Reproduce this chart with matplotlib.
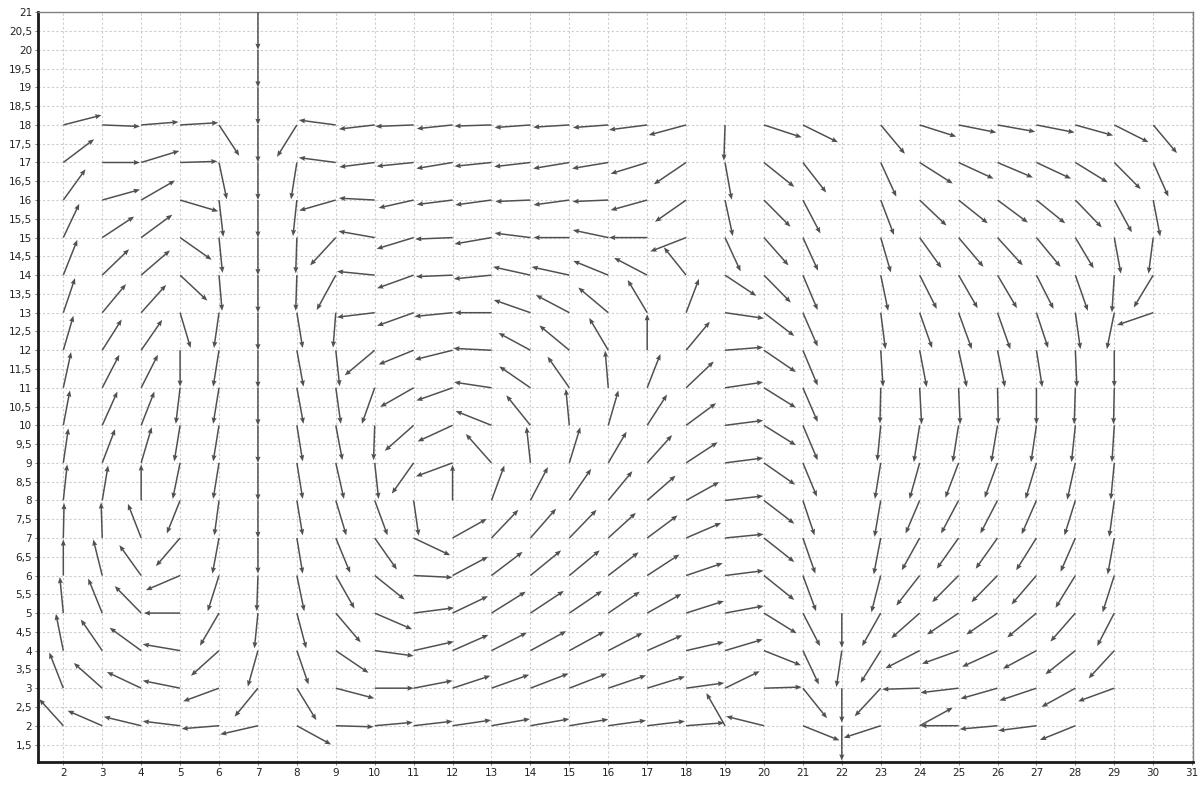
import numpy as np
import matplotlib
matplotlib.use("Agg")
import matplotlib.pyplot as plt
from matplotlib.ticker import MultipleLocator, FuncFormatter

nan = np.nan

# grid nodes (columns x = 2..30, rows y = 18..2)
xs = list(range(2, 31))
ys = list(range(18, 1, -1))

# x component of the vector at each node, one row per y value
u_rows = [
    [0.98, 0.97, 0.96, 0.98, 0.52, 0, -0.51, -0.95, -0.92, -0.98, -0.92, -0.95, -0.92, -0.93, -0.91, -0.98, -0.96, -0.03, 0.97, 0.9, nan, 0.62, 0.94, 0.97, 0.97, 0.98, 0.97, 0.88, 0.61],
    [0.79, 0.97, 0.98, 0.96, 0.2, 0, -0.15, -0.95, -0.91, -0.95, -0.93, -0.95, -0.93, -0.93, -0.93, -0.94, -0.83, 0.17, 0.78, 0.6, nan, 0.4, 0.85, 0.9, 0.91, 0.89, 0.83, 0.68, 0.39],
    [0.57, 0.97, 0.87, 0.98, 0.11, 0, -0.1, -0.94, -0.92, -0.9, -0.92, -0.93, -0.9, -0.92, -0.92, -0.94, -0.8, 0.2, 0.68, 0.45, nan, 0.34, 0.69, 0.75, 0.78, 0.74, 0.68, 0.45, 0.18],
    [0.41, 0.82, 0.8, 0.81, 0.09, 0, -0.03, -0.66, -0.93, -0.95, -0.96, -0.95, -0.92, -0.92, -0.91, -0.98, -0.92, 0.4, 0.63, 0.39, nan, 0.26, 0.56, 0.64, 0.65, 0.62, 0.47, 0.17, -0.12],
    [0.36, 0.69, 0.74, 0.7, 0.08, 0, -0.03, -0.49, -0.97, -0.94, -0.94, -0.97, -0.96, -0.97, -0.9, -0.85, -0.57, 0.8, 0.69, 0.38, nan, 0.19, 0.44, 0.49, 0.5, 0.44, 0.32, -0.06, -0.5],
    [0.3, 0.61, 0.64, 0.27, -0.13, 0, 0.15, -0.07, -0.97, -0.94, -0.98, -0.94, -0.94, -0.86, -0.77, -0.5, 0.33, 1.0, 0.78, 0.38, nan, 0.12, 0.32, 0.34, 0.33, 0.3, 0.13, -0.19, -0.93],
    [0.26, 0.5, 0.54, 0.0, -0.15, 0, 0.17, 0.1, -0.77, -0.9, -0.97, -0.98, -0.82, -0.77, -0.49, 0.0, 0.61, 0.98, 0.82, 0.38, nan, 0.06, 0.18, 0.21, 0.19, 0.15, 0.04, 0.0, nan],
    [0.2, 0.44, 0.43, -0.11, -0.15, 0, 0.17, 0.13, -0.33, -0.86, -0.93, -0.96, -0.8, -0.56, -0.08, 0.34, 0.71, 0.98, 0.82, 0.38, nan, -0.02, 0.05, 0.04, 0.02, 0.0, -0.03, -0.02, nan],
    [0.17, 0.39, 0.34, -0.15, -0.15, 0, 0.15, 0.17, -0.03, -0.74, -0.9, -0.92, -0.62, -0.09, 0.26, 0.51, 0.77, 0.98, 0.82, 0.38, nan, -0.09, -0.15, -0.15, -0.16, -0.14, -0.1, -0.06, nan],
    [0.13, 0.33, 0.27, -0.19, -0.15, 0, 0.15, 0.21, 0.1, -0.56, -0.94, -0.66, -0.1, 0.28, 0.47, 0.64, 0.81, 0.98, 0.8, 0.36, nan, -0.15, -0.26, -0.34, -0.33, -0.28, -0.21, -0.09, nan],
    [0.1, 0.15, 0.0, -0.34, -0.12, 0, 0.15, 0.27, 0.33, 0.13, 0.0, 0.33, 0.45, 0.56, 0.62, 0.73, 0.85, 0.98, 0.78, 0.3, nan, -0.16, -0.36, -0.45, -0.44, -0.38, -0.28, -0.13, nan],
    [0.02, -0.03, -0.34, -0.62, -0.17, 0, 0.15, 0.37, 0.57, 0.94, 0.88, 0.69, 0.66, 0.7, 0.71, 0.78, 0.9, 0.99, 0.78, 0.32, nan, -0.18, -0.46, -0.56, -0.56, -0.52, -0.38, -0.17, nan],
    [0.0, -0.23, -0.56, -0.88, -0.29, -0.03, 0.19, 0.48, 0.77, 1.0, 0.91, 0.8, 0.79, 0.78, 0.78, 0.83, 0.94, 0.99, 0.78, 0.34, nan, -0.24, -0.6, -0.68, -0.67, -0.64, -0.51, -0.3, nan],
    [-0.09, -0.36, -0.68, -0.93, -0.49, -0.09, 0.24, 0.64, 0.96, 1.04, 0.91, 0.88, 0.86, 0.84, 0.81, 0.88, 0.97, 0.99, 0.84, 0.44, 0.0, -0.48, -0.73, -0.81, -0.8, -0.75, -0.64, -0.44, nan],
    [-0.19, -0.55, -0.81, -0.96, -0.72, -0.26, 0.3, 0.84, 1.0, 1.03, 0.92, 0.91, 0.92, 0.9, 0.88, 0.9, 0.97, 0.97, 0.95, 0.41, -0.14, -0.52, -0.88, -0.94, -0.91, -0.86, -0.77, -0.66, nan],
    [-0.36, -0.73, -0.88, -0.96, -0.92, -0.6, 0.5, 0.99, 1.0, 1.0, 0.97, 0.97, 0.98, 0.97, 0.97, 0.97, 0.98, 0.89, 0.97, 0.62, 0.0, -0.67, -0.96, -0.98, -0.95, -0.95, -0.87, -0.93, nan],
    [-0.62, -0.89, -0.96, -0.96, -0.96, -0.97, 0.88, 0.97, 0.98, 1.0, 0.99, 0.99, 1.0, 1.0, 0.97, 0.97, 0.98, -0.48, -0.97, 0.94, 0.0, -0.95, 0.85, -0.98, -0.97, -0.98, -0.91, nan, nan],
]

# y component of the vector at each node
v_rows = [
    [0.26, -0.04, 0.08, 0.06, -0.82, -1, -0.85, 0.13, -0.11, -0.04, -0.1, -0.03, -0.07, -0.06, -0.07, -0.13, -0.27, -0.95, -0.33, -0.46, nan, -0.77, -0.31, -0.2, -0.18, -0.2, -0.28, -0.46, -0.75],
    [0.62, 0.0, 0.31, 0.03, -0.98, -1, -0.98, 0.13, -0.12, -0.1, -0.16, -0.1, -0.11, -0.16, -0.16, -0.3, -0.58, -0.99, -0.65, -0.8, nan, -0.91, -0.56, -0.43, -0.4, -0.43, -0.53, -0.71, -0.91],
    [0.82, 0.28, 0.52, -0.3, -0.98, -1, -0.96, -0.28, 0.05, -0.21, -0.12, -0.13, -0.04, -0.13, -0.04, -0.27, -0.58, -0.96, -0.71, -0.89, nan, -0.93, -0.68, -0.62, -0.6, -0.62, -0.73, -0.86, -0.97],
    [0.9, 0.56, 0.61, -0.59, -0.94, -1, -0.95, -0.74, 0.17, -0.3, -0.04, -0.17, 0.12, 0.0, 0.2, 0.0, -0.37, -0.9, -0.74, -0.88, nan, -0.93, -0.81, -0.78, -0.74, -0.78, -0.82, -0.96, -0.96],
    [0.94, 0.69, 0.66, -0.68, -0.95, -1, -0.95, -0.93, 0.1, -0.35, -0.04, -0.1, 0.22, 0.22, 0.38, 0.46, 0.74, -0.55, -0.73, -0.93, nan, -0.95, -0.9, -0.88, -0.88, -0.9, -0.95, -0.99, -0.86],
    [0.92, 0.76, 0.74, -0.94, -0.94, -1, -0.94, -0.93, -0.12, -0.35, -0.1, 0.0, 0.34, 0.47, 0.67, 0.87, 0.9, -0.15, -0.62, -0.9, nan, -0.97, -0.94, -0.97, -0.97, -0.94, -0.97, -0.97, -0.33],
    [0.92, 0.82, 0.81, -0.97, -0.97, -1, -0.97, -0.96, -0.67, -0.38, -0.25, 0.05, 0.46, 0.66, 0.86, 0.96, 0.76, 0.08, -0.58, -0.94, nan, -0.97, -0.98, -0.98, -0.98, -0.98, -0.98, -0.98, nan],
    [0.95, 0.88, 0.88, -0.96, -0.96, -1, -0.96, -0.96, -0.96, -0.51, -0.34, 0.15, 0.57, 0.83, 0.99, 0.9, 0.7, 0.15, -0.53, -0.91, nan, -0.95, -0.97, -0.97, -0.97, -0.97, -0.97, -0.97, nan],
    [0.93, 0.9, 0.9, -0.96, -0.96, -1, -0.96, -0.93, -0.93, -0.68, -0.43, 0.38, 0.8, 0.97, 0.93, 0.82, 0.59, 0.13, -0.53, -0.93, nan, -0.95, -0.98, -0.98, -0.98, -0.98, -0.98, -0.98, nan],
    [0.92, 0.9, 0.95, -0.96, -0.96, -1, -0.96, -0.96, -0.96, -0.82, -0.36, 0.77, 0.96, 0.95, 0.83, 0.74, 0.55, 0.13, -0.58, -0.9, nan, -0.96, -0.96, -0.93, -0.93, -0.96, -0.98, -0.98, nan],
    [0.96, 0.93, 0.96, -0.88, -0.93, -1, -0.93, -0.93, -0.93, -0.94, 0.95, 0.93, 0.89, 0.84, 0.78, 0.66, 0.49, 0.12, -0.62, -0.93, nan, -0.97, -0.88, -0.88, -0.88, -0.9, -0.93, -0.97, nan],
    [0.93, 0.95, 0.91, -0.75, -0.95, -0.95, -0.95, -0.93, -0.84, -0.46, 0.51, 0.75, 0.78, 0.75, 0.67, 0.6, 0.4, 0.1, -0.64, -0.95, nan, -0.97, -0.86, -0.82, -0.82, -0.86, -0.9, -0.97, nan],
    [0.96, 0.96, 0.81, -0.39, -0.95, -0.95, -0.95, -0.88, -0.64, -0.05, 0.5, 0.63, 0.67, 0.67, 0.62, 0.56, 0.33, 0.13, -0.65, -0.95, nan, -0.98, -0.8, -0.71, -0.71, -0.77, -0.86, -0.98, nan],
    [0.96, 0.92, 0.72, 0.0, -0.87, -0.94, -0.94, -0.78, -0.43, 0.14, 0.45, 0.57, 0.59, 0.59, 0.57, 0.51, 0.32, 0.19, -0.54, -0.88, -0.92, -0.88, -0.67, -0.57, -0.57, -0.65, -0.76, -0.88, nan],
    [0.98, 0.83, 0.61, 0.17, -0.67, -0.96, -0.9, -0.59, -0.14, 0.24, 0.42, 0.48, 0.52, 0.51, 0.47, 0.41, 0.23, 0.3, -0.39, -0.9, -0.97, -0.86, -0.47, -0.35, -0.43, -0.48, -0.63, -0.74, nan],
    [0.95, 0.67, 0.43, 0.2, -0.35, -0.76, -0.85, -0.27, 0.0, 0.2, 0.33, 0.36, 0.39, 0.39, 0.34, 0.31, 0.14, 0.45, 0.03, -0.8, -0.92, -0.75, -0.03, -0.12, -0.28, -0.33, -0.5, -0.35, nan],
    [0.71, 0.4, 0.24, 0.12, -0.08, -0.23, -0.5, -0.03, 0.09, 0.12, 0.15, 0.18, 0.18, 0.17, 0.14, 0.12, 0.08, 0.87, 0.25, -0.39, -0.93, -0.32, 0.48, 0.0, -0.09, -0.13, -0.38, nan, nan],
]

# the wall column at x = 7 carries on above the main grid
wall_x = [7, 7, 7]
wall_y = [21, 20, 19]
wall_u = [0.0, 0.0, 0.0]
wall_v = [-1.0, -1.0, -1.0]

X, Y = np.meshgrid(xs, ys)
U = np.array(u_rows, dtype=float)
V = np.array(v_rows, dtype=float)

px = np.concatenate([X.ravel(), wall_x])
py = np.concatenate([Y.ravel(), wall_y])
pu = np.concatenate([U.ravel(), wall_u])
pv = np.concatenate([V.ravel(), wall_v])
ok = ~np.isnan(pu)

fig = plt.figure(figsize=(12.04, 7.87), dpi=100)
ax = fig.add_axes([37.7 / 1204, 1 - 762.3 / 787, (1193.3 - 37.7) / 1204, (762.3 - 12.3) / 787])

ax.quiver(px[ok], py[ok], pu[ok], pv[ok], angles='xy', scale_units='xy', scale=1,
          color='#505050', width=0.0013, headwidth=3.4, headlength=4.2,
          headaxislength=3.8, zorder=3)

ax.set_xlim(1.342, 31.03)
ax.set_ylim(1.026, 21.0)

ax.xaxis.set_major_locator(MultipleLocator(1))
ax.yaxis.set_major_locator(MultipleLocator(0.5))


def comma(val, pos):
    if abs(val - round(val)) < 1e-6:
        return '%d' % round(val)
    return ('%.1f' % val).replace('.', ',')


ax.xaxis.set_major_formatter(FuncFormatter(comma))
ax.yaxis.set_major_formatter(FuncFormatter(comma))

ax.grid(True, color='#cdcdcd', linestyle=(0, (2, 2)), linewidth=0.8, zorder=0)
ax.set_axisbelow(True)

ax.tick_params(labelsize=7.5, length=2, width=0.8, color='#808080', pad=2,
               labelcolor='#222222')
for side in ('left', 'bottom'):
    ax.spines[side].set_color('#1a1a1a')
    ax.spines[side].set_linewidth(2)
for side in ('top', 'right'):
    ax.spines[side].set_color('#808080')
    ax.spines[side].set_linewidth(1)

fig.savefig('out.png', dpi=100)
